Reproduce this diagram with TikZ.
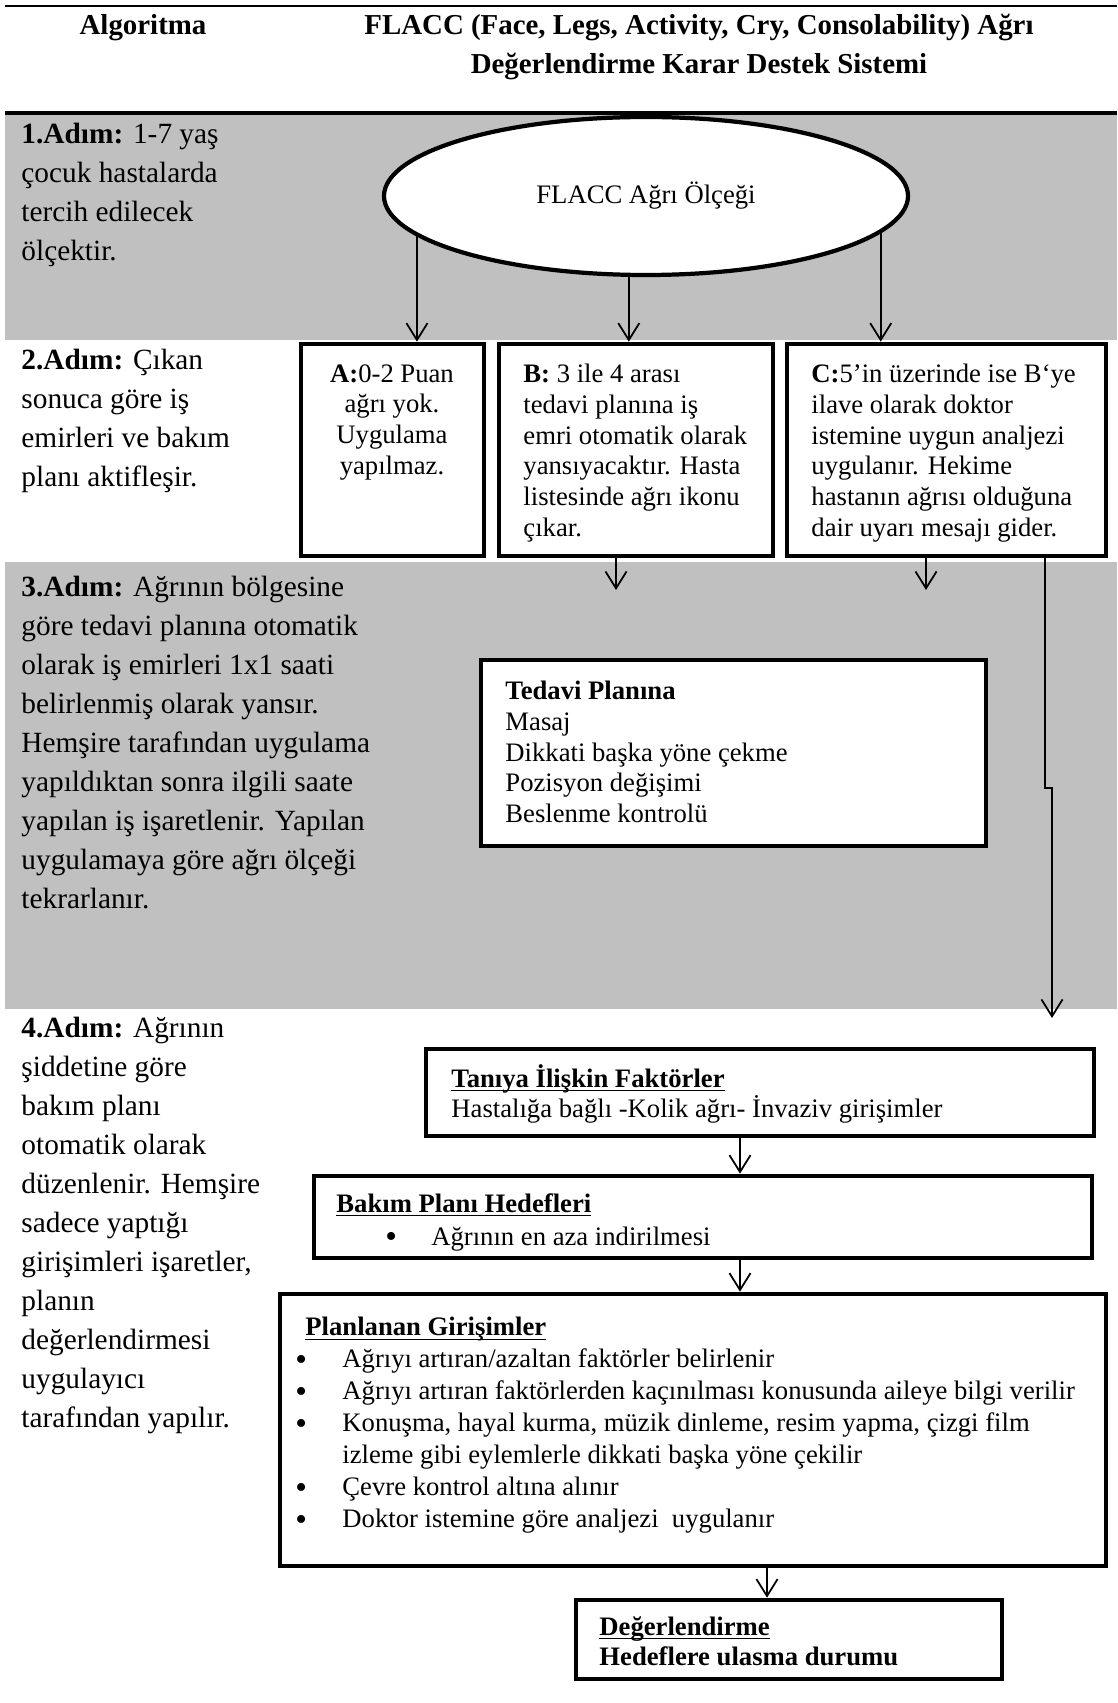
\documentclass[tikz,border=0pt]{standalone}
\usepackage{fontspec}
\setmainfont{Liberation Serif}
\usepackage{tikz}
\usetikzlibrary{shapes.geometric,arrows.meta,fit}

\definecolor{bandgri}{RGB}{192,192,192}
\newcommand{\alti}[1]{\underline{\raisebox{0pt}[\height][0pt]{#1}}}
\newcommand{\madde}[1][21.15pt]{\makebox[#1][l]{\raisebox{-1pt}{\fontsize{15}{15}\selectfont\textbullet}}}

\begin{document}
\begin{tikzpicture}[x=0.45pt,y=-0.45pt,
  kutu/.style={draw,line width=2.1pt,fill=white,inner sep=0pt},
  yazi/.style={anchor=north west,align=left,inner sep=0pt,font=\fontsize{12}{13.8}\selectfont},
  adim/.style={anchor=north west,align=left,inner sep=0pt,font=\fontsize{13.2}{17.55}\selectfont},
  baslik/.style={anchor=north,align=center,inner sep=0pt,font=\fontsize{13}{17.5}\selectfont\bfseries},
  ok/.style={line width=0.8pt,-{Straight Barb[length=7.6pt,width=9.5pt]}}
]
  \useasboundingbox (0,0) rectangle (1117,1703);
  \fill[bandgri] (5,113) rectangle (1117,340);
  \fill[bandgri] (5,562) rectangle (1117,1009);
  \draw[line width=1.3pt] (5,6) -- (1117,6);
  \draw[line width=1.4pt] (5,113) -- (1117,113);

  \node[baslik] (algo) at (143,14) {Algoritma};
  \node[baslik] (sistem) at (699,14) {FLACC (Face, Legs, Activity, Cry, Consolability) Ağrı\\Değerlendirme Karar Destek Sistemi};

  \node[adim] (adim1) at (21,123) {\textbf{1.Adım:} 1-7 yaş\\çocuk hastalarda\\tercih edilecek\\ölçektir.};
  \node[adim] (adim2) at (21,349) {\textbf{2.Adım:} Çıkan\\sonuca göre iş\\emirleri ve bakım\\planı aktifleşir.};
  \node[adim] (adim3) at (21,576) {\textbf{3.Adım:} Ağrının bölgesine\\göre tedavi planına otomatik\\olarak iş emirleri 1x1 saati\\belirlenmiş olarak yansır.\\Hemşire tarafından uygulama\\yapıldıktan sonra ilgili saate\\yapılan iş işaretlenir. Yapılan\\uygulamaya göre ağrı ölçeği\\tekrarlanır.};
  \node[adim] (adim4) at (21,1017) {\textbf{4.Adım:} Ağrının\\şiddetine göre\\bakım planı\\otomatik olarak\\düzenlenir. Hemşire\\sadece yaptığı\\girişimleri işaretler,\\planın\\değerlendirmesi\\uygulayıcı\\tarafından yapılır.};

  \node[draw,ellipse,line width=1.9pt,fill=white,minimum width=235.8pt,minimum height=71.1pt,inner sep=0pt,font=\fontsize{12}{13.8}\selectfont] (olcek) at (646,196) {FLACC Ağrı Ölçeği};

  \node[kutu,fit={(301,344) (484,556)}] (kA) {};
  \node[kutu,fit={(499,344) (773,556)}] (kB) {};
  \node[kutu,fit={(787,344) (1106,556)}] (kC) {};
  \node[yazi,anchor=north,align=center] (tA) at (392,364) {\textbf{A:}0-2 Puan\\ağrı yok.\\Uygulama\\yapılmaz.};
  \node[yazi] (tB) at (523,364) {\textbf{B:} 3 ile 4 arası\\tedavi planına iş\\emri otomatik olarak\\yansıyacaktır. Hasta\\listesinde ağrı ikonu\\çıkar.};
  \node[yazi] (tC) at (811,364) {\textbf{C:}5’in üzerinde ise B‘ye\\ilave olarak doktor\\istemine uygun analjezi\\uygulanır. Hekime\\hastanın ağrısı olduğuna\\dair uyarı mesajı gider.};

  \draw[ok] (olcek.190) -- (olcek.190 |- kA.north);
  \draw[ok] (olcek.258) -- (olcek.258 |- kB.north);
  \draw[ok] (olcek.351) -- (olcek.351 |- kC.north);

  \coordinate (bAlt) at (616,590);
  \coordinate (cAlt) at (926,590);
  \coordinate (kirik) at (1045,788);
  \coordinate (uzunUc) at (1052,1018);
  \draw[ok] (kB.south -| bAlt) -- (bAlt);
  \draw[ok] (kC.south -| cAlt) -- (cAlt);
  \draw[ok] (kC.south -| kirik) -- (kirik) -- (kirik -| uzunUc) -- (uzunUc);

  \node[kutu,fit={(481,660) (986,846)}] (kTedavi) {};
  \node[yazi] (tTedavi) at (505,681) {\textbf{Tedavi Planına}\\Masaj\\Dikkati başka yöne çekme\\Pozisyon değişimi\\Beslenme kontrolü};

  \node[kutu,fit={(426,1049) (1094,1136)}] (kTani) {};
  \node[yazi] (tTani) at (451,1064) {\alti{\textbf{Tanıya İlişkin Faktörler}}\\Hastalığa bağlı -Kolik ağrı- İnvaziv girişimler};

  \node[kutu,fit={(314,1176) (1092,1258)}] (kBakim) {};
  \node[yazi] (tBakim) at (336,1193) {\alti{\textbf{Bakım Planı Hedefleri}}\\[1pt]\hspace*{22pt}\madde[20.7pt]Ağrının en aza indirilmesi};

  \node[kutu,fit={(280,1294) (1106,1566)}] (kPlan) {};
  \node[yazi,font=\fontsize{12}{14.4}\selectfont] (tPlan) at (295,1317) {\hspace*{4.5pt}\alti{\textbf{Planlanan Girişimler}}\\
    \madde Ağrıyı artıran/azaltan faktörler belirlenir\\
    \madde Ağrıyı artıran faktörlerden kaçınılması konusunda aileye bilgi verilir\\
    \madde Konuşma, hayal kurma, müzik dinleme, resim yapma, çizgi film\\
    \hspace*{21.15pt}izleme gibi eylemlerle dikkati başka yöne çekilir\\
    \madde Çevre kontrol altına alınır\\
    \madde Doktor istemine göre analjezi\ \ uygulanır};

  \node[kutu,fit={(576,1600) (1002,1679)}] (kDeger) {};
  \node[yazi] (tDeger) at (599,1616) {\alti{\textbf{Değerlendirme}}\\\textbf{Hedeflere ulasma durumu}};

  \coordinate (okx1) at (740,0);
  \coordinate (okx2) at (767,0);
  \draw[ok] (kTani.south -| okx1) -- (kBakim.north -| okx1);
  \draw[ok] (kBakim.south -| okx1) -- (kPlan.north -| okx1);
  \draw[ok] (kPlan.south -| okx2) -- (kDeger.north -| okx2);
\end{tikzpicture}
\end{document}
